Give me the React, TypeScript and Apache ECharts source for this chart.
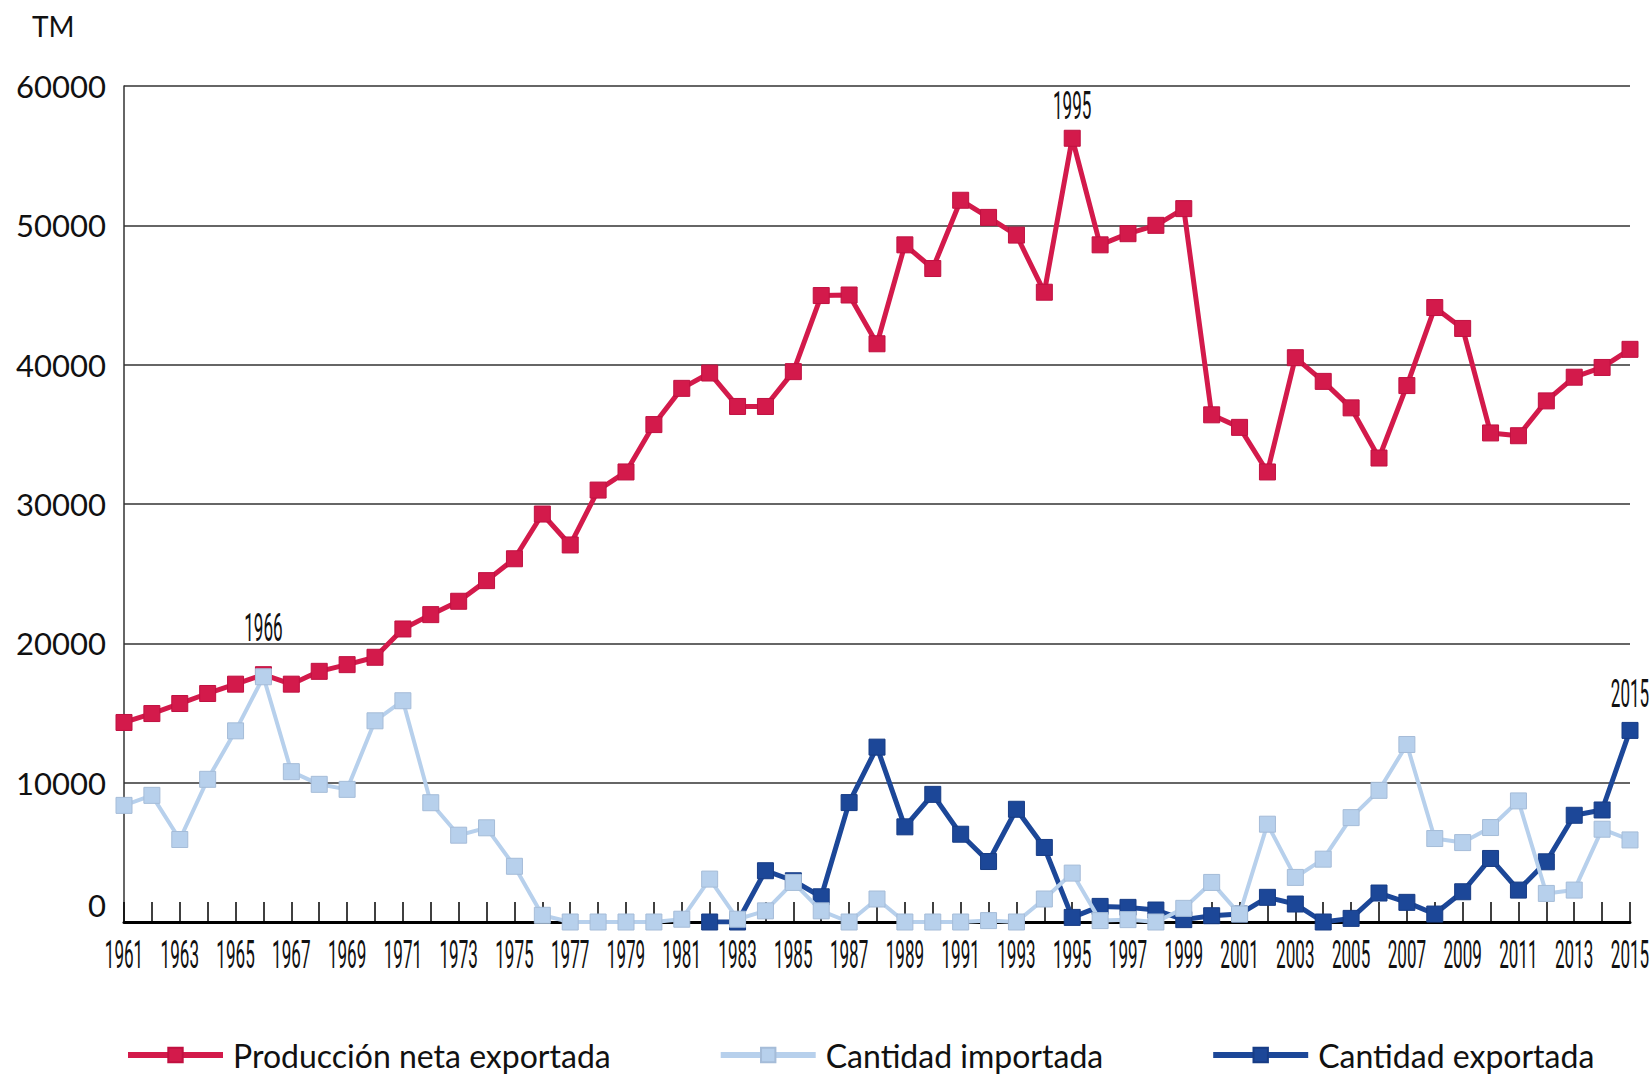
import React, { useEffect, useRef } from "react";
import * as echarts from "echarts";

const years = [
  "1961","1962","1963","1964","1965","1966","1967","1968","1969","1970",
  "1971","1972","1973","1974","1975","1976","1977","1978","1979","1980",
  "1981","1982","1983","1984","1985","1986","1987","1988","1989","1990",
  "1991","1992","1993","1994","1995","1996","1997","1998","1999","2000",
  "2001","2002","2003","2004","2005","2006","2007","2008","2009","2010",
  "2011","2012","2013","2014","2015",
];

const produccionNeta = [
  14320, 14960, 15680, 16400, 17070, 17750, 17070, 17990, 18470, 19000,
  21030, 22060, 23020, 24500, 26070, 29280, 27060, 31000, 32300, 35700,
  38300, 39400, 37000, 37000, 39500, 44960, 45000, 41500, 48600, 46900,
  51800, 50570, 49300, 45200, 56250, 48600, 49400, 50000, 51200, 36400,
  35500, 32300, 40500, 38800, 36900, 33300, 38500, 44100, 42600, 35100,
  34900, 37400, 39100, 39800, 41100,
];

const cantidadImportada = [
  8370, 9090, 5920, 10240, 13720, 17600, 10790, 9880, 9520, 14440,
  15880, 8560, 6230, 6760, 4000, 480, 0, 0, 0, 0,
  200, 3080, 200, 800, 2840, 800, 0, 1650, 0, 0,
  0, 100, 0, 1650, 3510, 100, 170, 0, 980, 2840,
  570, 7020, 3200, 4510, 7490, 9450, 12740, 5990, 5700, 6780,
  8690, 2050, 2290, 6660, 5890,
];

// starts in 1982
const exportStartYear = "1982";
const cantidadExportada = [
  0, 0, 3680, 2960, 1810, 8570, 12550, 6830, 9160, 6300,
  4340, 8090, 5350, 330, 1120, 1050, 860, 170, 450, 570,
  1770, 1290, 0, 260, 2080, 1410, 570, 2170, 4560, 2290,
  4320, 7660, 8040, 13750,
];

const yTicks = [0, 10000, 20000, 30000, 40000, 50000, 60000];

const seriesNames = ["Producción neta exportada", "Cantidad importada", "Cantidad exportada"];

// annotated years: which series they sit on
const annotatedYears = ["1966", "1995", "2015"];
const annotatedSeries = ["red", "red", "export"];
const annotationLift = [47, 32, 36];

const RED = "#d31a4b";
const LIGHT = "#b7d0ec";
const DARK = "#1c4798";
const LABEL_FAMILY = "Roboto";
const LABEL_SIZE = 38;
const LABEL_SCALE_X = 0.45;

export default function App() {
  const ref = useRef<HTMLDivElement>(null);

  useEffect(() => {
    document.body.style.margin = "0";
    const chart = echarts.init(ref.current!, null, { renderer: "svg" });
    const startIdx = years.indexOf(exportStartYear);
    const exportFull: (number | null)[] = years.map((_, i) =>
      i < startIdx ? null : cantidadExportada[i - startIdx]
    );

    const yearLabelData = years
      .map((y, i) => [i, 0, y])
      .filter((_, i) => i % 2 === 0);

    const annotationData = annotatedYears.map((y, k) => {
      const i = years.indexOf(y);
      const v = annotatedSeries[k] === "red" ? produccionNeta[i] : (exportFull[i] as number);
      return [i, v, y, annotationLift[k]];
    });

    const textItem = (dy: number) => (params: any, api: any) => {
      const c = api.coord([api.value(0), api.value(1)]);
      const lift = api.value(3);
      return {
        type: "text",
        x: c[0],
        y: c[1] + (dy !== 0 ? dy : -lift),
        scaleX: LABEL_SCALE_X,
        style: {
          text: String(api.value(2)),
          fontFamily: LABEL_FAMILY,
          fontSize: LABEL_SIZE,
          fill: "#111",
          textAlign: "center",
          textVerticalAlign: "middle",
        },
      };
    };

    chart.setOption({
      animation: false,
      backgroundColor: "#ffffff",
      grid: { left: 124, right: 22, top: 86, bottom: 153, containLabel: false },
      graphic: [
        {
          type: "text",
          left: 32,
          top: 12,
          style: { text: "TM", fontFamily: "Lato", fontSize: 28, fill: "#111" },
        },
      ],
      legend: {
        data: seriesNames,
        left: 120,
        top: 1034,
        itemWidth: 95,
        itemHeight: 18,
        itemGap: 107,
        lineStyle: { width: 6 },
        textStyle: { fontFamily: "Lato", fontSize: 32, color: "#111", padding: [0, 0, 0, 5] },
      },
      xAxis: {
        type: "category",
        data: years,
        boundaryGap: false,
        axisLine: { show: true, lineStyle: { color: "#000", width: 3 } },
        axisTick: { show: true, inside: true, length: 20, interval: 0, lineStyle: { color: "#000", width: 1.5 } },
        axisLabel: { show: false },
        splitLine: { show: false },
      },
      yAxis: {
        type: "value",
        min: yTicks[0],
        max: yTicks[yTicks.length - 1],
        interval: 10000,
        axisLine: { show: true, lineStyle: { color: "#333", width: 1.5 } },
        axisTick: { show: false },
        axisLabel: {
          margin: 18,
          fontFamily: "Lato",
          fontSize: 31,
          color: "#111",
          formatter: (v: number) => (v === 0 ? "{z|0}" : String(v)),
          rich: { z: { fontFamily: "Lato", fontSize: 31, color: "#111", padding: [0, 0, 34, 0] } },
        },
        splitLine: { show: true, lineStyle: { color: "#333", width: 1.5 } },
      },
      series: [
        {
          name: seriesNames[0],
          type: "line",
          z: 2,
          data: produccionNeta,
          symbol: "rect",
          symbolSize: 16,
          lineStyle: { color: RED, width: 5 },
          itemStyle: { color: RED, borderColor: "#c01040", borderWidth: 1 },
        },
        {
          name: seriesNames[1],
          type: "line",
          z: 4,
          data: cantidadImportada,
          symbol: "rect",
          symbolSize: 16,
          lineStyle: { color: LIGHT, width: 4 },
          itemStyle: { color: LIGHT, borderColor: "#a5bcd8", borderWidth: 1 },
        },
        {
          name: seriesNames[2],
          type: "line",
          z: 3,
          data: exportFull,
          symbol: "rect",
          symbolSize: 16,
          connectNulls: false,
          lineStyle: { color: DARK, width: 5 },
          itemStyle: { color: DARK, borderColor: "#173c85", borderWidth: 1 },
        },
        {
          name: "yearLabels",
          type: "custom",
          clip: false,
          silent: true,
          z: 5,
          data: yearLabelData,
          renderItem: textItem(33),
        },
        {
          name: "annotations",
          type: "custom",
          clip: false,
          silent: true,
          z: 5,
          data: annotationData,
          renderItem: textItem(0),
        },
      ],
    });
    return () => chart.dispose();
  }, []);

  return <div ref={ref} style={{ width: 1652, height: 1075 }} />;
}
